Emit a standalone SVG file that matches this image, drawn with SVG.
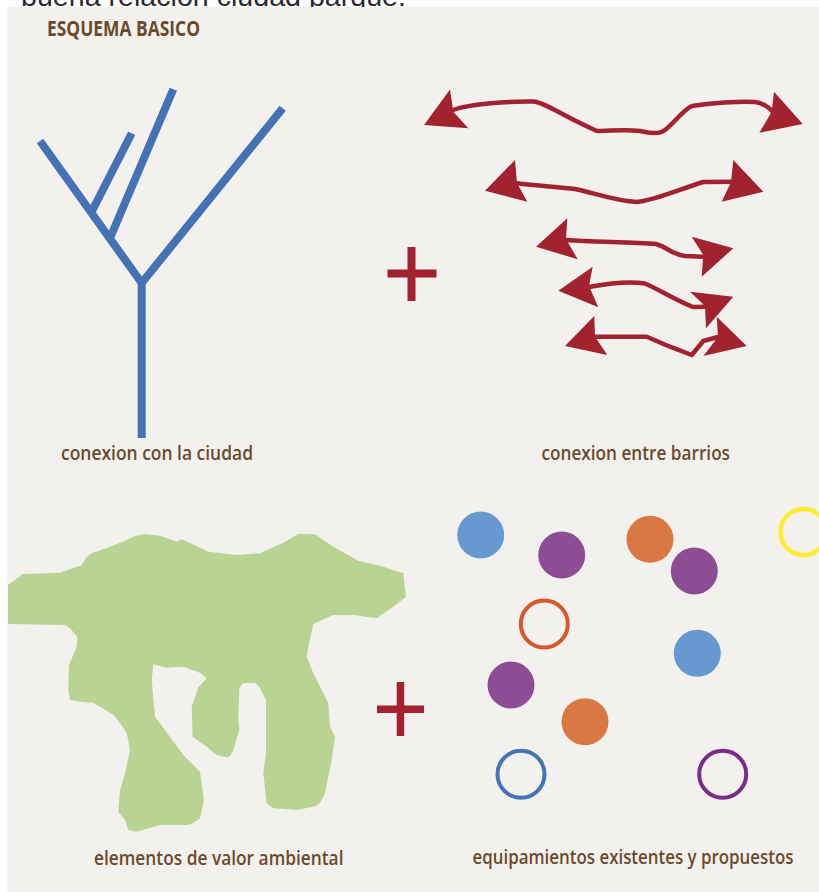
<svg xmlns="http://www.w3.org/2000/svg" width="819" height="892" viewBox="0 0 819 892">
<defs>
<style>
.lbl{font-family:"Open Sans","Noto Sans",sans-serif;font-size:19px;font-weight:600;fill:#6b4a2b}
.ttl{font-family:"Open Sans","Noto Sans",sans-serif;font-size:21px;font-weight:bold;fill:#6b4a2b}
.tree{fill:none;stroke:#4572b5;stroke-width:8;stroke-linecap:butt;stroke-linejoin:miter}
.ln{fill:none;stroke:#a3222f;stroke-width:4.5;stroke-linejoin:round;stroke-linecap:round}
.hd{fill:#a3222f}
.plus{fill:#a3222f}
</style>
</defs>
<rect width="819" height="892" fill="#ffffff"/>
<text x="21" y="6" font-family="'Liberation Sans',Arial,sans-serif" font-size="28.5" fill="#2b2b2b" textLength="385" lengthAdjust="spacingAndGlyphs">buena relación ciudad parque.</text>
<rect x="7" y="7" width="812" height="885" fill="#f3f1ee"/>
<text class="ttl" x="47" y="36" textLength="153" lengthAdjust="spacingAndGlyphs">ESQUEMA BASICO</text>

<g id="tree">
<polyline class="tree" points="40,141 141.7,283 282.7,108.3"/>
<line class="tree" x1="141.7" y1="281" x2="141.7" y2="438"/>
<line class="tree" x1="90.5" y1="214" x2="131.7" y2="133.3"/>
<line class="tree" x1="109" y1="240.5" x2="173.3" y2="89.3"/>
<text class="lbl" x="61" y="460" textLength="192" lengthAdjust="spacingAndGlyphs">conexion con la ciudad</text>
</g>

<g id="plus1"><rect class="plus" x="387.5" y="269.5" width="49" height="8"/><rect class="plus" x="407.5" y="247" width="8" height="54"/></g>

<g id="connectors">
<g id="arrow1">
<path class="ln" d="M453,110 C470,104 510,101 533,101.5 C545,102 560,115 597,131 C610,131 625,129 640,131 C652,134 660,134 665,130 C675,122 683,110 692,106 C710,103 740,101 755,102 C763,103 770,108 773,112"/>
<polygon class="hd" points="424,125 450,89.5 453.3,111.7 468.3,128.3"/>
<polygon class="hd" points="802.7,124 774,91.7 771.7,111.7 759.3,132.7"/>
</g>
<g id="arrow2">
<path class="ln" d="M516.7,183.3 C540,186 560,187 575,189 C595,193 615,201 637,202 C655,200 675,191 703,182 L733,181.7"/>
<polygon class="hd" points="485,190.7 515,160 517,183 527.3,201.7"/>
<polygon class="hd" points="763.3,191.7 733.3,160 731,182 721.7,201.7"/>
</g>
<g id="arrow3">
<path class="ln" d="M566.7,240 C590,242 630,242 656,244 C668,247 670,254 685,256 L703,256.7"/>
<polygon class="hd" points="536,246.7 567.3,218.3 566,239 577.7,259.3"/>
<polygon class="hd" points="733.3,248.3 691.7,236.7 703.3,255 701.7,276.7"/>
</g>
<g id="arrow4">
<path class="ln" d="M590,286.7 C605,284 630,281 645,283.5 C658,289 675,300 693,307 L706,306.7"/>
<polygon class="hd" points="558.3,290.7 592.7,266.7 589,286 598.3,307.3"/>
<polygon class="hd" points="733.3,296.7 690,291.7 705,306 706,328.3"/>
</g>
<g id="arrow5">
<polyline class="ln" points="595,336.7 646.7,336.7 670,346.7 691.7,355 703.3,341 718,337"/>
<polygon class="hd" points="565,346 594.3,316 595,336.7 607.3,355"/>
<polygon class="hd" points="746.7,346 716.7,316.7 718,337 703.3,356"/>
</g>
</g>
<g id="label-barrios"><text class="lbl" x="541.5" y="460" textLength="188.5" lengthAdjust="spacingAndGlyphs">conexion entre barrios</text></g>

<g id="green">
<path fill="#b9d492" d="M8,585 L22.7,574 L60,572.7 L81.7,565 Q86,556 91.7,553.3 L110,546.7 L126.7,540 Q137,534 146.7,534.3 L160,535.7 L176.7,541.7 L181.7,539 L208.3,551.7 L236.7,555 L260,553.3 L283.3,542.7 L298.3,534 L315,534.3 L333.3,546.7 L358.3,560.7 L380,565.7 L403.3,573.3 L406,596.7 L393.3,606.7 L376.7,618.3 L353.3,615 L333.3,615 L313.3,624 L308.3,646.7 L306.7,656.7 L313.3,673.3 L328.3,703.3 L330,726.7 L335,736.7 L331.7,760 L325,793.3 Q320,806 313.3,806.7 L296.7,810 L273.3,808.3 L266.7,803.3 L263.3,773.3 L266,753.3 L266,700 L260,688.3 Q256,682.5 253.3,682.7 L243.3,683.3 Q239,686 239.3,691.7 L238.3,718.3 L239.3,730 L233.3,750 Q230,758 226.7,757.3 L216.7,755 L206.7,746.7 L192.7,736.7 L191.7,706.7 L198.3,687.3 L206.7,678.3 L200,672.7 L183.3,666.7 L166.7,667.7 L153.3,664.3 L151.7,680 L155,716.7 L160,723.3 L183.3,755 L200,771.7 L204,800 L200,818.3 Q192,825 186.7,825 L160,825 L136.7,831.7 L128.3,830 L125,820 L118.3,811.7 L120,790 L125,773.3 L130,750 L126.7,733.3 Q120,722 113.3,715 L93.3,702.7 L80,701.7 L70,700 L68.3,690 L69,665 L76.7,646.7 L77.3,636.7 L70,628.3 L65,625 L8,624 Z"/>
<text class="lbl" x="94" y="865" textLength="249.5" lengthAdjust="spacingAndGlyphs">elementos de valor ambiental</text>
</g>

<g id="plus2"><rect class="plus" x="377" y="705.5" width="47" height="7.5"/><rect class="plus" x="396.7" y="682" width="7.5" height="54"/></g>

<g id="equipamientos">
<circle cx="480.7" cy="535" r="23.5" fill="#6699d0"/>
<circle cx="561.7" cy="555" r="23.5" fill="#8c4d94"/>
<circle cx="650" cy="539.3" r="23.5" fill="#d97843"/>
<circle cx="694.3" cy="571" r="23.5" fill="#8c4d94"/>
<circle cx="803.5" cy="532" r="23" fill="none" stroke="#ffec2a" stroke-width="4.5"/>
<circle cx="544.3" cy="624" r="23.5" fill="none" stroke="#d9582a" stroke-width="4"/>
<circle cx="697.3" cy="653.3" r="23.5" fill="#6699d0"/>
<circle cx="511" cy="685" r="23.5" fill="#8c4d94"/>
<circle cx="585" cy="721.7" r="23.5" fill="#d97843"/>
<circle cx="521" cy="774.3" r="23.5" fill="none" stroke="#4274b8" stroke-width="4"/>
<circle cx="722.7" cy="774.3" r="23.5" fill="none" stroke="#7b2a8a" stroke-width="4"/>
<text class="lbl" x="472.5" y="864" textLength="321" lengthAdjust="spacingAndGlyphs">equipamientos existentes y propuestos</text>
</g>
</svg>
